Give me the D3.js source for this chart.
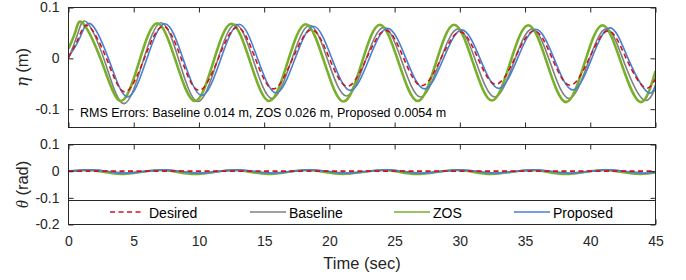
<!DOCTYPE html>
<html>
<head>
<meta charset="utf-8">
<script src="https://cdn.jsdelivr.net/npm/d3@7"></script>
<style>
html,body{margin:0;padding:0;background:#fff;}
svg{display:block;font-family:"Liberation Sans",Arial,Helvetica,sans-serif;}
</style>
</head>
<body>
<svg id="chart" width="686" height="280"></svg>
<script>
// ---------------- data ----------------
const timeTicks = [0,5,10,15,20,25,30,35,40,45];
const etaTicks = [-0.1, 0, 0.1];
const etaTickLabels = ["-0.1","0","0.1"];
const thetaTicks = [-0.2, -0.1, 0, 0.1];
const thetaTickLabels = ["-0.2","-0.1","0","0.1"];
const seriesNames = ["Desired","Baseline","ZOS","Proposed"];
const rmsText = "RMS Errors: Baseline 0.014 m, ZOS 0.026 m, Proposed 0.0054 m";

// eta (m) key points (time, value)
const etaDesiredT = [0,0.8,1.56,2.94,4.31,5.78,7.25,8.63,10.00,11.47,12.94,14.32,15.69,17.16,18.63,20.0,21.38,22.85,24.32,25.7,27.07,28.54,30.01,31.39,32.76,34.23,35.70,37.08,38.45,39.92,41.39,42.77,44.14,45];
const etaDesiredV = [0.002,0.042,0.063,-0.002,-0.066,-0.002,0.063,0.0,-0.063,-0.001,0.061,0.0,-0.060,-0.002,0.056,0.0,-0.055,0.0,0.055,0.0,-0.054,-0.001,0.052,0.0,-0.051,0.001,0.054,0.0,-0.053,0.0,0.054,-0.001,-0.057,-0.040];

const etaZosT = [0,0.55,1.11,2.56,4.01,5.405,6.80,8.25,9.70,11.095,12.49,13.94,15.39,16.785,18.18,19.63,21.08,22.475,23.87,25.32,26.77,28.165,29.56,31.01,32.46,33.855,35.25,36.70,38.15,39.545,40.94,42.39,43.84,45];
const etaZosV = [0.019,0.054,0.069,-0.0075,-0.084,-0.0075,0.069,-0.0075,-0.084,-0.008,0.068,-0.008,-0.084,-0.0085,0.067,-0.009,-0.085,-0.0095,0.066,-0.009,-0.084,-0.009,0.066,-0.0085,-0.083,-0.009,0.065,-0.0105,-0.086,-0.0105,0.065,-0.0105,-0.086,-0.025];

const etaBaselineT = [0,0.7,1.41,2.82,4.23,5.665,7.10,8.51,9.92,11.355,12.79,14.20,15.61,17.045,18.48,19.89,21.30,22.735,24.17,25.58,26.99,28.425,29.86,31.27,32.68,34.115,35.55,36.96,38.37,39.805,41.24,42.65,44.06,45];
const etaBaselineV = [0.0,0.048,0.071,-0.009,-0.089,-0.0095,0.070,-0.0075,-0.085,-0.009,0.067,-0.006,-0.079,-0.007,0.065,-0.0045,-0.074,-0.0065,0.061,-0.0075,-0.076,-0.009,0.058,-0.009,-0.076,-0.009,0.058,-0.0105,-0.079,-0.0105,0.058,-0.0115,-0.081,-0.058];

const etaProposedT = [0,0.85,1.70,3.115,4.53,5.96,7.39,8.805,10.22,11.65,13.08,14.495,15.91,17.34,18.77,20.185,21.60,23.03,24.46,25.875,27.29,28.72,30.15,31.565,32.98,34.41,35.84,37.255,38.67,40.10,41.53,42.945,44.36,45];
const etaProposedV = [0.003,0.039,0.068,-0.004,-0.076,-0.004,0.068,-0.0025,-0.073,-0.003,0.067,-0.0005,-0.068,-0.0025,0.063,0.0,-0.063,-0.002,0.059,-0.0005,-0.060,-0.002,0.056,-0.0015,-0.059,-0.001,0.057,-0.0025,-0.062,-0.001,0.060,-0.003,-0.066,-0.052];

// theta (rad) key points
const thetaDesiredT = [0,45];
const thetaDesiredV = [0,0];
const thetaTimes = [0,0.9,1.8,3.05,4.3,5.8,7.3,8.65,10.0,11.45,12.9,14.25,15.6,17.05,18.5,19.9,21.3,22.85,24.4,25.7,27.0,28.5,30.0,31.35,32.7,34.2,35.7,37.05,38.4,39.85,41.3,42.7,44.1,45];
const thetaProposedV = [0.0,0.003,0.005,-0.001,-0.007,-0.001,0.005,-0.001,-0.007,-0.001,0.005,-0.001,-0.007,-0.001,0.005,-0.001,-0.007,-0.001,0.005,-0.001,-0.007,-0.001,0.005,-0.001,-0.007,-0.001,0.005,-0.001,-0.007,-0.001,0.005,-0.001,-0.007,-0.004];
const thetaBaselineV = [0.0,0.003,0.005,-0.002,-0.009,-0.002,0.005,-0.002,-0.009,-0.002,0.005,-0.002,-0.009,-0.002,0.005,-0.002,-0.009,-0.002,0.005,-0.002,-0.009,-0.002,0.005,-0.002,-0.009,-0.002,0.005,-0.002,-0.009,-0.002,0.005,-0.002,-0.009,-0.006];
const thetaZosT = [0,0.6,1.5,2.75,4.0,5.5,7.0,8.35,9.7,11.15,12.6,13.95,15.3,16.75,18.2,19.6,21.0,22.55,24.1,25.4,26.7,28.2,29.7,31.05,32.4,33.9,35.4,36.75,38.1,39.55,41.0,42.4,43.8,45];
const thetaZosV = [0.0,0.002,0.004,-0.0035,-0.011,-0.0035,0.004,-0.0035,-0.011,-0.0035,0.004,-0.0035,-0.011,-0.0035,0.004,-0.0035,-0.011,-0.0035,0.004,-0.0035,-0.011,-0.0035,0.004,-0.0035,-0.011,-0.0035,0.004,-0.0035,-0.011,-0.0035,0.004,-0.0035,-0.011,-0.006];

// ---------------- style ----------------
const C = {desired:"#d0161b", baseline:"#808080", zos:"#77b02a", proposed:"#4a7fd4", axis:"#262626"};

const svg = d3.select("#chart");
const x = d3.scaleLinear().domain([0,45]).range([68.5,655.5]);
const yEta = d3.scaleLinear().domain([-0.136,0.1]).range([127.5,7.5]);
const yTheta = d3.scaleLinear().domain([-0.2,0.1]).range([224.5,144.5]);

const zip = (T,V) => T.map((t,i)=>[t,V[i]]);

function panel(y, ticks, labels, series, clipId){
  const [yb, yt] = y.range();
  svg.append("clipPath").attr("id",clipId).append("rect")
    .attr("x",x.range()[0]).attr("y",yt).attr("width",x.range()[1]-x.range()[0]).attr("height",yb-yt);
  const g = svg.append("g").attr("clip-path",`url(#${clipId})`);
  const line = d3.line().x(d=>x(d[0])).y(d=>y(d[1])).curve(d3.curveNatural);
  series.forEach(s=>{
    g.append("path").attr("d",line(s.data)).attr("fill","none")
      .attr("stroke",s.color).attr("stroke-width",s.w)
      .attr("stroke-dasharray",s.dash||null).attr("stroke-linejoin","round");
  });
  // axes (ticks inside)
  const ax = svg.append("g").attr("class","ax");
  ax.append("g").attr("transform",`translate(${x.range()[0]},0)`)
    .call(d3.axisLeft(y).tickValues(ticks).tickFormat((d,i)=>labels[i]).tickSizeInner(-5).tickSizeOuter(0).tickPadding(9));
  ax.append("g").attr("transform",`translate(${x.range()[1]},0)`)
    .call(d3.axisRight(y).tickValues(ticks).tickFormat("").tickSizeInner(-5).tickSizeOuter(0));
  ax.append("g").attr("transform",`translate(0,${yt})`)
    .call(d3.axisTop(x).tickValues(timeTicks).tickFormat("").tickSizeInner(-5).tickSizeOuter(0));
  ax.append("g").attr("class","bottomAxis").attr("transform",`translate(0,${yb})`)
    .call(d3.axisBottom(x).tickValues(timeTicks).tickFormat("").tickSizeInner(-5).tickSizeOuter(0));
  ax.selectAll(".domain").remove();
  ax.selectAll(".tick line").attr("stroke",C.axis);
  ax.selectAll("text").attr("fill",C.axis).style("font-size","14px").style("font-family","'Liberation Sans',Arial,sans-serif");
  svg.append("rect").attr("x",x.range()[0]).attr("y",yt).attr("width",x.range()[1]-x.range()[0]).attr("height",yb-yt)
    .attr("fill","none").attr("stroke",C.axis).attr("stroke-width",1);
}

// top panel
panel(yEta, etaTicks, etaTickLabels, [
  {data:zip(etaBaselineT,etaBaselineV), color:C.baseline, w:1.6},
  {data:zip(etaZosT,etaZosV), color:C.zos, w:2.6},
  {data:zip(etaProposedT,etaProposedV), color:C.proposed, w:1.6},
  {data:zip(etaDesiredT,etaDesiredV), color:C.desired, w:1.6, dash:"5,3.5"}
], "clipTop");

svg.append("text").attr("x",80).attr("y",117).attr("fill","#000")
  .style("font-size","12.5px").text(rmsText);

// bottom panel
panel(yTheta, thetaTicks, thetaTickLabels, [
  {data:zip(thetaTimes,thetaBaselineV), color:C.baseline, w:1.6},
  {data:zip(thetaZosT,thetaZosV), color:C.zos, w:2.2},
  {data:zip(thetaTimes,thetaProposedV), color:C.proposed, w:1.8},
  {data:zip(thetaDesiredT,thetaDesiredV), color:C.desired, w:1.6, dash:"5,3.5"}
], "clipBot");

// x tick labels on bottom panel
const xl = svg.append("g").attr("transform",`translate(0,${yTheta.range()[0]})`)
  .call(d3.axisBottom(x).tickValues(timeTicks).tickFormat(d=>String(d)).tickSize(0).tickPadding(12));
xl.select(".domain").remove();
xl.selectAll("text").attr("fill",C.axis).style("font-size","14px").style("font-family","'Liberation Sans',Arial,sans-serif");

// legend
const legY = 200.5;
svg.append("rect").attr("x",x.range()[0]).attr("y",legY).attr("width",x.range()[1]-x.range()[0]).attr("height",224.5-legY)
  .attr("fill","#fff").attr("stroke",C.axis).attr("stroke-width",1);
const legItems = [
  {name:seriesNames[0], color:C.desired, dash:"5,3.5", x1:110, x2:144, tx:149},
  {name:seriesNames[1], color:C.baseline, x1:250, x2:286, tx:289},
  {name:seriesNames[2], color:C.zos, x1:394, x2:430, tx:433},
  {name:seriesNames[3], color:C.proposed, x1:514, x2:550, tx:553}
];
legItems.forEach(it=>{
  svg.append("line").attr("x1",it.x1).attr("x2",it.x2).attr("y1",212).attr("y2",212)
    .attr("stroke",it.color).attr("stroke-width",1.6).attr("stroke-dasharray",it.dash||null);
  svg.append("text").attr("x",it.tx).attr("y",217.5).attr("fill","#000").style("font-size","14px").text(it.name);
});

// axis labels
svg.append("text").attr("x",362).attr("y",269).attr("text-anchor","middle").attr("fill",C.axis)
  .style("font-size","16.5px").text("Time (sec)");
const l1 = svg.append("text").attr("transform","translate(28,67.5) rotate(-90)").attr("text-anchor","middle")
  .attr("fill",C.axis).style("font-size","16.5px");
l1.append("tspan").style("font-style","italic").style("font-family","'DejaVu Serif','Liberation Serif',serif").text("η");
l1.append("tspan").text(" (m)");
const l2 = svg.append("text").attr("transform","translate(27.5,184.5) rotate(-90)").attr("text-anchor","middle")
  .attr("fill",C.axis).style("font-size","16.5px");
l2.append("tspan").style("font-style","italic").style("font-family","'Liberation Serif',serif").text("θ");
l2.append("tspan").text(" (rad)");
</script>
</body>
</html>
